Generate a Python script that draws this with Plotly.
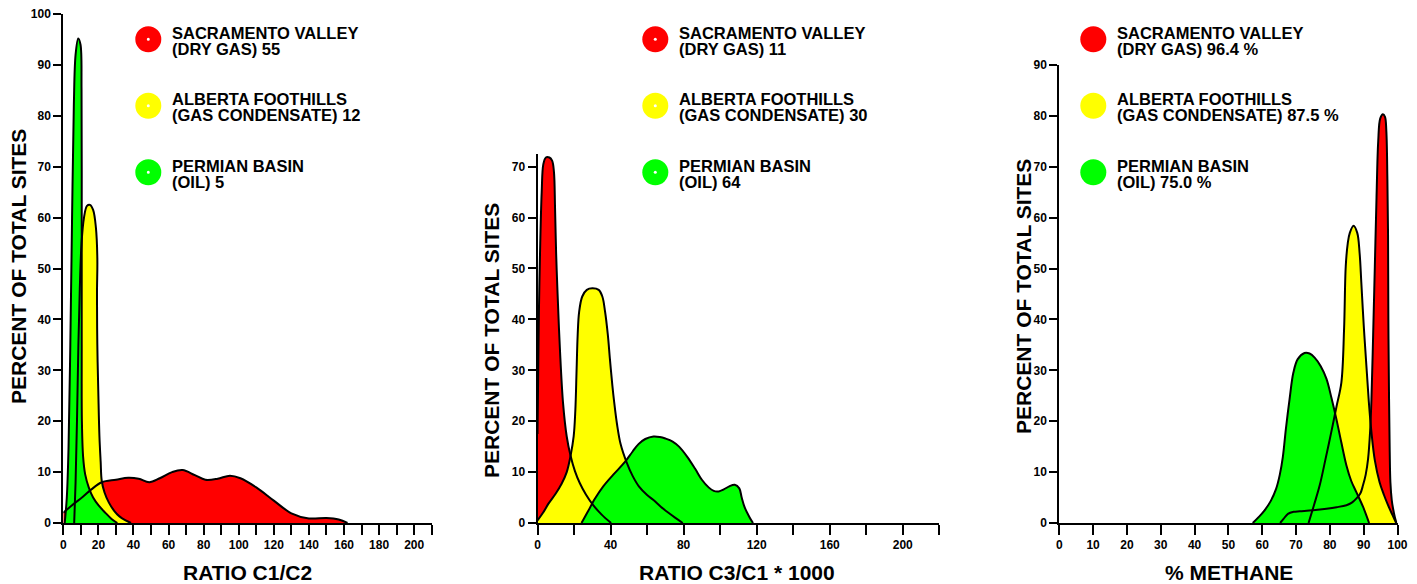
import plotly.graph_objects as go

W, H = 1417, 584

# ---------------- data ----------------
# Panel 1: RATIO C1/C2
c1c2_red_x = [0, 5, 11, 16, 22, 30, 37, 43, 49, 55, 62, 68, 75, 81, 88, 95, 101, 110, 120, 130, 140, 150, 157, 162]
c1c2_red_y = [2, 3.5, 5.1, 6.6, 8.0, 8.5, 8.9, 8.7, 8.0, 8.8, 10, 10.4, 9.4, 8.5, 8.7, 9.3, 8.8, 7.0, 4.4, 1.9, 0.9, 1.0, 0.7, 0]
c1c2_yel_x = [6.2, 7, 7.8, 8.6, 9.4, 10.4, 11.8, 13.5, 15.2, 17, 18.6, 19.4, 19.2, 19.4, 20, 20.6, 21.3, 21.9, 23.5, 26, 29, 32, 35.5, 38.6]
c1c2_yel_y = [0, 8, 20, 35, 46, 55, 60, 62.3, 62.5, 61.5, 58, 52, 45, 35, 25, 17, 12, 8.3, 6, 4, 2.4, 1.3, 0.5, 0]
c1c2_grn_x = [0.8, 2, 3, 4, 5, 6, 7, 8.5, 9.8, 10.4, 10.5, 10.5, 10.6, 11.3, 12.5, 14.5, 17, 20, 24, 27.5, 30.8]
c1c2_grn_y = [0, 5, 15, 35, 60, 82, 92, 95.2, 94, 85, 60, 35, 20, 13, 9.5, 7, 5, 3.5, 2, 0.8, 0]

# Panel 2: RATIO C3/C1 * 1000
c3c1_red_x = [0, 0.4, 0.8, 1.5, 2.3, 3.2, 4.6, 6.5, 8, 9, 9.6, 10.2, 11, 12.3, 14, 16, 18.1, 20.5, 23.2, 26.5, 30.5, 35, 40.3]
c3c1_red_y = [17.5, 30, 42, 55, 65, 70.5, 71.8, 71.8, 71.2, 69, 62, 53, 45, 34, 23.5, 17, 13.2, 10.2, 7.8, 5.6, 3.5, 1.7, 0]
c3c1_yel_x = [0, 3, 6, 10, 13.2, 16, 18.1, 19.8, 20.7, 21.4, 22, 22.8, 24.5, 27, 30, 33.5, 35.5, 37, 38.5, 39.7, 41, 42,
              43.5, 45.5, 48.8, 52, 55.5, 60, 63.5, 67.5, 71.7, 75.5, 79.5]
c3c1_yel_y = [0.5, 2, 3.8, 5.8, 7.7, 10, 13.2, 17, 22, 30, 37, 41.5, 44.5, 45.8, 46.1, 45.8, 44.5, 41.5, 37, 32, 27, 23.7,
              19.5, 15.5, 11.9, 9.3, 7.2, 5.5, 4.5, 3.2, 2.0, 1.0, 0]
c3c1_grn_x = [24.1, 27.5, 31.5, 36, 41.5, 47.9, 52, 55.3, 59, 63.5, 67, 70, 74, 77.5, 82, 86.4, 90, 93.7, 96.5, 99.2, 102,
              105, 108, 110.5, 111.8, 113.5, 116, 118]
c3c1_grn_y = [0, 2.2, 4.8, 7.2, 9.5, 12, 14, 15.5, 16.5, 17, 16.9, 16.6, 16, 15, 13, 10.6, 8.5, 7.0, 6.3, 6.2, 6.6,
              7.2, 7.5, 6.8, 5, 3, 1.2, 0]

# Panel 3: % METHANE
ch4_red_x = [65.3, 66.3, 67.6, 69.3, 71.1, 75, 79, 82, 84.9, 86.5, 87.8, 89, 89.8, 90.6, 91.3, 91.9, 92.3, 92.8, 93.3,
             93.8, 94.3, 94.9, 95.7, 96.3, 96.7, 97, 97.2, 97.3, 97.5, 97.7, 97.9, 98.3, 98.7, 99.2, 99.7]
ch4_red_y = [0, 0.8, 1.8, 2.2, 2.3, 2.5, 2.8, 3.1, 3.5, 4.0, 4.8, 5.8, 7.4, 9.5, 12.6, 18, 24.4, 37, 50.5,
             64, 75, 79.5, 80.3, 79.8, 77, 68, 57, 40, 24.4, 14, 8, 4.5, 2.8, 1.2, 0]
ch4_yel_x = [73.7, 75.3, 77, 78.7, 80.4, 82, 83.4, 84.2, 84.7, 85.3, 85.9, 87, 88.1, 88.8, 89.3, 90, 90.8, 91.5, 92.3,
             93.3, 94.7, 96, 97.2, 98.5, 99.6]
ch4_yel_y = [0, 3.5, 7.4, 12.5, 17.8, 23, 27.6, 38, 50.5, 55, 57, 58.4, 57, 53, 47.3, 39, 30.9, 24, 17.8,
             12.3, 8, 5.5, 3.5, 1.6, 0]
ch4_grn_x = [57.2, 59, 60.7, 62.5, 64.1, 65.2, 66.1, 67, 68.1, 69.2, 70.5, 72.5, 74, 75.5, 77.3, 79, 80.5, 81.9, 83.4,
             84.9, 86.3, 87.8, 89.8, 91.6]
ch4_grn_y = [0, 1.2, 2.5, 4.3, 6.7, 9.5, 13, 18.5, 24.4, 29.5, 32.2, 33.4, 33.3, 32.5, 30.8, 28.3, 24.5, 20.5, 15.8,
             11.3, 8.3, 6.1, 3.2, 0]

legend_names = ["SACRAMENTO VALLEY", "ALBERTA FOOTHILLS", "PERMIAN BASIN"]
legend_kinds = ["(DRY GAS)", "(GAS CONDENSATE)", "(OIL)"]
legend_vals_c1c2 = ["55", "12", "5"]
legend_vals_c3c1 = ["11", "30", "64"]
legend_vals_ch4 = ["96.4 %", "87.5 %", "75.0 %"]

x_titles = ["RATIO C1/C2", "RATIO C3/C1 * 1000", "% METHANE"]
y_title = "PERCENT OF TOTAL SITES"

x1_ticks = list(range(0, 211, 10))
x1_labels = [str(v) if v % 20 == 0 and v <= 200 else "" for v in x1_ticks]
x2_ticks = list(range(0, 221, 20))
x2_labels = [str(v) if v % 40 == 0 and v <= 200 else "" for v in x2_ticks]
x3_ticks = list(range(0, 101, 10))
x3_labels = [str(v) for v in x3_ticks]
y1_ticks = list(range(0, 101, 10))
y2_ticks = list(range(0, 71, 10))
y3_ticks = list(range(0, 91, 10))

COLORS = ["#ff0000", "#ffff00", "#00ff00"]
FONT = "Arial, 'Liberation Sans', sans-serif"

# ---------------- layout geometry (page pixels; the page body has an 8px margin) ----------------
OFF = 8.0

def px_x(p):
    return (p - OFF) / W

def px_y(p):
    return (H - (p - OFF)) / H

Y0 = 523.0
PXU = 5.09  # pixels per percent unit

panels = [
    dict(series=[(c1c2_red_x, c1c2_red_y), (c1c2_yel_x, c1c2_yel_y), (c1c2_grn_x, c1c2_grn_y)],
         xdom=(63.3, 431.7), xr=(0, 210), ytop=100, xt=(x1_ticks, x1_labels), yt=y1_ticks,
         vals=legend_vals_c1c2, legx=148.3, dots=True, ytx=18, yty=267, xtx=247, xty=572),
    dict(series=[(c3c1_red_x, c3c1_red_y), (c3c1_yel_x, c3c1_yel_y), (c3c1_grn_x, c3c1_grn_y)],
         xdom=(537.5, 939.3), xr=(0, 220), ytop=72.5, xt=(x2_ticks, x2_labels), yt=y2_ticks,
         vals=legend_vals_c3c1, legx=655.3, dots=True, ytx=491, yty=341, xtx=737.5, xty=572),
    dict(series=[(ch4_red_x, ch4_red_y), (ch4_yel_x, ch4_yel_y), (ch4_grn_x, ch4_grn_y)],
         xdom=(1059.3, 1397.5), xr=(0, 100), ytop=90, xt=(x3_ticks, x3_labels), yt=y3_ticks,
         vals=legend_vals_ch4, legx=1093.3, dots=False, ytx=1023, yty=297, xtx=1229, xty=572),
]

fig = go.Figure()
layout = dict(width=W, height=H, margin=dict(l=0, r=0, t=0, b=0, autoexpand=False),
              paper_bgcolor="white", plot_bgcolor="white", showlegend=False,
              font=dict(family=FONT, color="black"))
annotations = []
shapes = []

for i, p in enumerate(panels):
    n = "" if i == 0 else str(i + 1)
    xa, ya = "x" + n, "y" + n
    # fills first, back to front: red, yellow, green
    for (xs, ys), col in zip(p["series"], COLORS):
        fig.add_trace(go.Scatter(x=xs, y=ys, xaxis=xa, yaxis=ya, mode="lines", fill="tozeroy",
                                 fillcolor=col, line=dict(width=0, shape="spline", smoothing=1.0),
                                 hoverinfo="skip"))
    # outlines on top
    for (xs, ys), col in zip(p["series"], COLORS):
        fig.add_trace(go.Scatter(x=xs, y=ys, xaxis=xa, yaxis=ya, mode="lines",
                                 line=dict(width=2, color="black", shape="spline", smoothing=1.0),
                                 hoverinfo="skip"))
    ybot = px_y(Y0)
    ytop_px = Y0 - p["ytop"] * PXU
    layout["xaxis" + n] = dict(domain=[px_x(p["xdom"][0]), px_x(p["xdom"][1])], range=list(p["xr"]),
                               anchor=ya, showline=True, linecolor="black", linewidth=2,
                               ticks="outside", ticklen=10, tickwidth=2, tickcolor="black",
                               tickmode="array", tickvals=p["xt"][0], ticktext=p["xt"][1],
                               tickfont=dict(family=FONT, size=12, color="black", weight="bold"),
                               ticklabeloverflow="allow",
                               showgrid=False, zeroline=False, fixedrange=True, automargin=False)
    layout["yaxis" + n] = dict(domain=[ybot, px_y(ytop_px)], range=[0, p["ytop"]],
                               anchor=xa, showline=True, linecolor="black", linewidth=2,
                               ticks="outside", ticklen=8, tickwidth=2, tickcolor="black",
                               tickmode="array", tickvals=p["yt"],
                               tickfont=dict(family=FONT, size=12, color="black", weight="bold"),
                               ticklabeloverflow="allow",
                               showgrid=False, zeroline=False, fixedrange=True, automargin=False)
    # axis titles
    annotations.append(dict(x=px_x(p["ytx"]), y=px_y(p["yty"]), xref="paper", yref="paper",
                            text="<b>%s</b>" % y_title, textangle=-90, showarrow=False,
                            xanchor="center", yanchor="middle",
                            font=dict(family=FONT, size=21, color="black")))
    annotations.append(dict(x=px_x(p["xtx"]), y=px_y(p["xty"]), xref="paper", yref="paper",
                            text="<b>%s</b>" % x_titles[i], showarrow=False,
                            xanchor="center", yanchor="middle",
                            font=dict(family=FONT, size=21, color="black")))
    # legend
    cy = [39.3, 105.7, 172.3]
    for k in range(3):
        shapes.append(dict(type="circle", xref="paper", yref="paper", xsizemode="pixel", ysizemode="pixel",
                           xanchor=px_x(p["legx"]), yanchor=px_y(cy[k]), x0=-13, x1=13, y0=-13, y1=13,
                           fillcolor=COLORS[k], line=dict(width=0)))
        if p["dots"]:
            shapes.append(dict(type="circle", xref="paper", yref="paper", xsizemode="pixel",
                               ysizemode="pixel", xanchor=px_x(p["legx"]), yanchor=px_y(cy[k]),
                               x0=-1.5, x1=1.5, y0=-1.5, y1=1.5, fillcolor="white", line=dict(width=0)))
        tx = p["legx"] + 22.4
        annotations.append(dict(x=px_x(tx), y=px_y(cy[k] - 6.5), xref="paper", yref="paper",
                                text="<b>%s</b>" % legend_names[k], showarrow=False,
                                xanchor="left", yanchor="middle", borderpad=0,
                                font=dict(family=FONT, size=16.5, color="black")))
        annotations.append(dict(x=px_x(tx), y=px_y(cy[k] + 9.2), xref="paper", yref="paper",
                                text="<b>%s %s</b>" % (legend_kinds[k], p["vals"][k]), showarrow=False,
                                xanchor="left", yanchor="middle", borderpad=0,
                                font=dict(family=FONT, size=16.5, color="black")))

layout["annotations"] = annotations
layout["shapes"] = shapes
fig.update_layout(**layout)
fig.write_html("out.html", config={"displayModeBar": False})
